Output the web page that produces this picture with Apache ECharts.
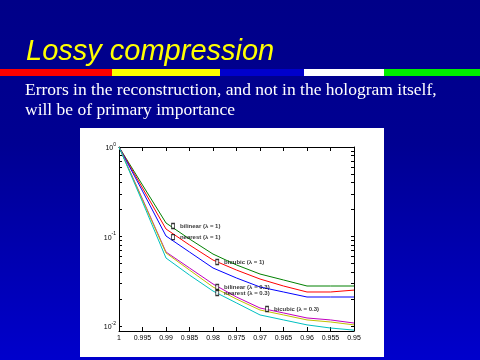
<!DOCTYPE html>
<html><head><meta charset="utf-8">
<script src="https://cdn.jsdelivr.net/npm/echarts@6/dist/echarts.min.js"></script>
<style>html,body{margin:0;padding:0;background:#000088}#c{width:480px;height:360px}</style>
</head><body><div id="c"></div>
<script>
// ---- data ----
const xValues = [1, 0.995, 0.99, 0.985, 0.98, 0.975, 0.97, 0.965, 0.96, 0.955, 0.95];
const seriesNames = ['bilinear (λ = 1)', 'nearest (λ = 1)', 'bicubic (λ = 1)',
                     'bilinear (λ = 0.3)', 'nearest (λ = 0.3)', 'bicubic (λ = 0.3)'];
const bilinear1  = [1, 0.376, 0.1416, 0.0938, 0.0637, 0.0481, 0.0381, 0.0327, 0.0280, 0.0280, 0.0280];
const nearest1   = [1, 0.348, 0.1213, 0.0804, 0.0546, 0.0422, 0.0335, 0.0280, 0.0240, 0.0240, 0.0252];
const bicubic1   = [1, 0.322, 0.1013, 0.0671, 0.0445, 0.0344, 0.0273, 0.0240, 0.0211, 0.0211, 0.0211];
const bilinear03 = [1, 0.262, 0.0671, 0.0445, 0.0295, 0.0211, 0.0159, 0.0140, 0.0123, 0.0117, 0.0108];
const nearest03  = [1, 0.256, 0.0654, 0.0422, 0.0273, 0.0200, 0.0151, 0.0133, 0.0117, 0.0111, 0.0103];
const bicubic03  = [1, 0.243, 0.0575, 0.0371, 0.0246, 0.0181, 0.0133, 0.0117, 0.0103, 0.0095, 0.0090];
const annotationLabels = seriesNames;
const annotationX = [0.9885, 0.9885, 0.9791, 0.9791, 0.9791, 0.9685];
const annotationY = [0.131, 0.0987, 0.0519, 0.0273, 0.0234, 0.0155];
const yTickValues = [0.01,0.02,0.03,0.04,0.05,0.06,0.07,0.08,0.09,0.1,0.2,0.3,0.4,0.5,0.6,0.7,0.8,0.9,1];
const yLabelValues = [0.01, 0.1, 1];
const titleText = 'Lossy compression';
const subtitleText = 'Errors in the reconstruction, and not in the hologram itself,\nwill be of primary importance';

// ---- styles ----
const seriesColors = ['#008000', '#ff0000', '#0000ff', '#c000c0', '#c0c000', '#00c0c0'];
const seriesData = [bilinear1, nearest1, bicubic1, bilinear03, nearest03, bicubic03];
const axisFont = 'Liberation Sans';

const chart = echarts.init(document.getElementById('c'), null, {renderer: 'canvas'});
const lineSeries = seriesData.map((vals, i) => ({
  name: seriesNames[i], type: 'line', xAxisIndex: 0, yAxisIndex: 0,
  data: xValues.map((x, j) => [x, vals[j]]),
  showSymbol: false, symbol: 'none', smooth: false,
  lineStyle: {color: seriesColors[i], width: 1}, itemStyle: {color: seriesColors[i]},
  z: 3, silent: true
}));
const annoSeries = {
  type: 'scatter', xAxisIndex: 0, yAxisIndex: 0, silent: true, z: 5,
  data: annotationX.map((x, i) => [x, annotationY[i], annotationLabels[i]]),
  symbol: 'rect', symbolSize: [3, 5],
  itemStyle: {color: '#ffffff', borderColor: '#000000', borderWidth: 1},
  label: {show: true, position: 'right', distance: 5, formatter: p => p.data[2],
          fontSize: 6, fontWeight: 'bold', color: '#000', fontFamily: axisFont}
};
const xBase = {type: 'value', min: 0.95, max: 1, interval: 0.005, inverse: true,
  splitLine: {show: false},
  axisLine: {show: true, onZero: false, lineStyle: {color: '#000', width: 1}},
  axisTick: {show: true, inside: true, length: 4, lineStyle: {color: '#000'}}};
const yBase = {type: 'log', logBase: 10, min: 0.0088, max: 1,
  splitLine: {show: false}, minorTick: {show: false},
  axisLine: {show: true, onZero: false, lineStyle: {color: '#000', width: 1}},
  axisTick: {show: true, inside: true, length: 3, customValues: yTickValues, lineStyle: {color: '#000'}}};

chart.setOption({
  animation: false,
  backgroundColor: '#000088',
  grid: {left: 119, right: 126, top: 147, bottom: 29, containLabel: false},
  xAxis: [
    Object.assign({}, xBase, {position: 'bottom',
      axisLabel: {fontSize: 7, color: '#000', margin: 4, fontFamily: axisFont,
        formatter: v => String(+v.toFixed(3))}}),
    Object.assign({}, xBase, {position: 'top', axisLabel: {show: false}})
  ],
  yAxis: [
    Object.assign({}, yBase, {position: 'left',
      axisLabel: {customValues: yLabelValues, margin: 3, color: '#000', fontFamily: axisFont,
        formatter: v => '{b|10}{s|' + Math.round(Math.log10(v)) + '}',
        rich: {b: {fontSize: 7, color: '#000', fontFamily: axisFont, lineHeight: 10, verticalAlign: 'bottom'},
               s: {fontSize: 5, color: '#000', fontFamily: axisFont, lineHeight: 5, verticalAlign: 'top'}}}}),
    Object.assign({}, yBase, {position: 'right', axisLabel: {show: false}})
  ],
  graphic: {elements: [
    {type: 'rect', z: -20, silent: true, shape: {x: 0, y: 0, width: 480, height: 360},
     style: {fill: {type: 'linear', x: 0, y: 0, x2: 0, y2: 1,
       colorStops: [{offset: 0, color: '#000088'}, {offset: 0.4, color: '#000092'}, {offset: 1, color: '#0000cc'}]}}},
    {type: 'rect', z: -15, silent: true, shape: {x: 0, y: 69, width: 112, height: 7}, style: {fill: '#ff0000'}},
    {type: 'rect', z: -15, silent: true, shape: {x: 112, y: 69, width: 108, height: 7}, style: {fill: '#ffff00'}},
    {type: 'rect', z: -15, silent: true, shape: {x: 220, y: 69, width: 84, height: 7}, style: {fill: '#0000cc'}},
    {type: 'rect', z: -15, silent: true, shape: {x: 304, y: 69, width: 80, height: 7}, style: {fill: '#ffffff'}},
    {type: 'rect', z: -15, silent: true, shape: {x: 384, y: 69, width: 96, height: 7}, style: {fill: '#00ee00'}},
    {type: 'rect', z: -15, silent: true, shape: {x: 80, y: 128, width: 304, height: 229}, style: {fill: '#ffffff'}},
    {type: 'text', z: 10, silent: true, x: 26, y: 52,
     style: {text: titleText, font: 'italic 29px "Liberation Sans", Arial, sans-serif', fill: '#ffff00',
       align: 'left', verticalAlign: 'middle',
       shadowColor: '#000000', shadowOffsetX: 2, shadowOffsetY: 2, shadowBlur: 0,
       textShadowColor: '#000000', textShadowOffsetX: 2, textShadowOffsetY: 2, textShadowBlur: 0}},
    {type: 'text', z: 10, silent: true, x: 25, y: 80,
     style: {text: subtitleText, font: '17.5px "Liberation Serif", serif', fill: '#ffffff',
       lineHeight: 20, align: 'left', verticalAlign: 'top',
       shadowColor: '#000000', shadowOffsetX: 1, shadowOffsetY: 1, shadowBlur: 0,
       textShadowColor: '#000000', textShadowOffsetX: 1, textShadowOffsetY: 1, textShadowBlur: 0}}
  ]},
  series: lineSeries.concat([annoSeries])
});
</script></body></html>
